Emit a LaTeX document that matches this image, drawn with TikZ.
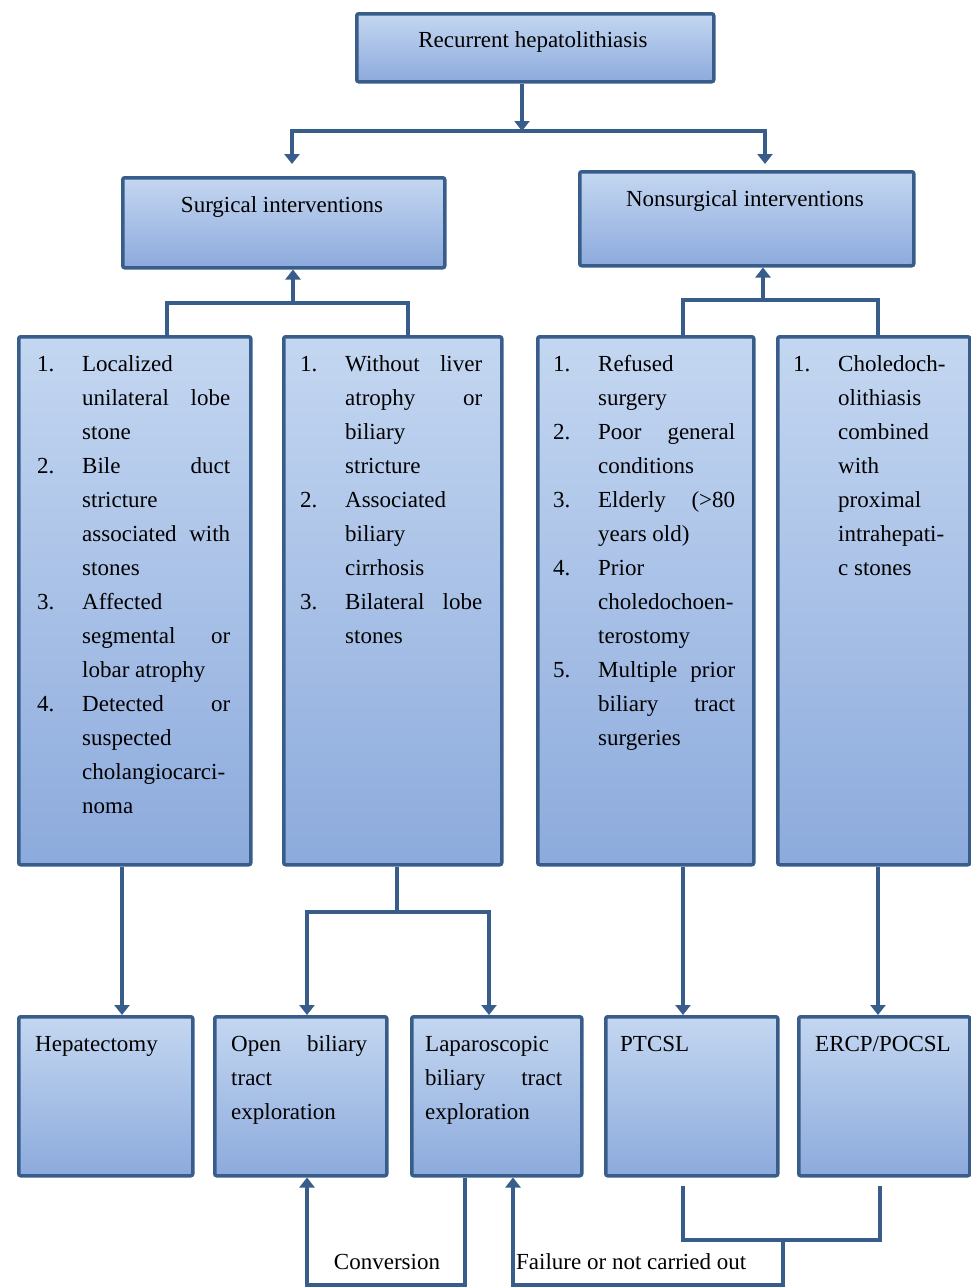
\documentclass[tikz,border=0pt]{standalone}
\usepackage{fontspec}
\setmainfont{Liberation Serif}
\usetikzlibrary{arrows.meta,calc}
\definecolor{edge}{HTML}{385D8A}
\definecolor{ftop}{HTML}{C4D7F1}
\definecolor{fbot}{HTML}{8CAADC}
\newcommand{\itm}[2]{\par\hangindent=45pt\hangafter=1\noindent\makebox[45pt][l]{#1}#2\par}
\hbadness=10000
\begin{document}
\begin{tikzpicture}[x=1pt,y=-1pt,
  box/.style={draw=edge, line width=3.5pt, rounded corners=2pt, top color=ftop, bottom color=fbot, inner sep=0pt, anchor=north west},
  conn/.style={draw=edge, line width=4pt},
  arr/.style={conn, -{Triangle[width=15pt,length=10pt]}},
  txt/.style={inner sep=0pt, anchor=base west, font=\fontsize{23}{34}\selectfont},
  ctxt/.style={inner sep=0pt, anchor=base, font=\fontsize{23}{34}\selectfont}]
\useasboundingbox (0,0) rectangle (970,1288);
% boxes
\node[box, minimum width=357pt, minimum height=68pt] (top) at (355,12) {};
\node[box, minimum width=322pt, minimum height=90pt] (surg) at (121,176) {};
\node[box, minimum width=334pt, minimum height=94pt] (nons) at (578,170) {};
\node[box, minimum width=232pt, minimum height=528pt] (b1) at (17,335) {};
\node[box, minimum width=218pt, minimum height=528pt] (b2) at (282,335) {};
\node[box, minimum width=216pt, minimum height=528pt] (b3) at (536,335) {};
\node[box, minimum width=192pt, minimum height=528pt] (b4) at (776,335) {};
\node[box, minimum width=174pt, minimum height=159pt] (hep) at (17,1015) {};
\node[box, minimum width=172pt, minimum height=159pt] (open) at (213,1015) {};
\node[box, minimum width=170pt, minimum height=159pt] (lap) at (410,1015) {};
\node[box, minimum width=172pt, minimum height=159pt] (ptc) at (604,1015) {};
\node[box, minimum width=171pt, minimum height=159pt] (ercp) at (797,1015) {};
% texts
\node[ctxt] (topt) at (533,47) {Recurrent hepatolithiasis};
\node[ctxt] (surgt) at (282,212) {Surgical interventions};
\node[ctxt] (nonst) at (745,206) {Nonsurgical interventions};
\node[txt] (b1t) at (37,371) {\parbox[t]{193pt}{%
\itm{1.}{Localized\\ unilateral\hfill lobe\\ stone}%
\itm{2.}{Bile\hfill duct\\ stricture\\ associated\hfill with\\ stones}%
\itm{3.}{Affected\\ segmental\hfill or\\ lobar atrophy}%
\itm{4.}{Detected\hfill or\\ suspected\\ cholangiocarci-\\ noma}}};
\node[txt] (b2t) at (300,371) {\parbox[t]{182pt}{%
\itm{1.}{Without\hfill liver\\ atrophy\hfill or\\ biliary\\ stricture}%
\itm{2.}{Associated\\ biliary\\ cirrhosis}%
\itm{3.}{Bilateral\hfill lobe\\ stones}}};
\node[txt] (b3t) at (553,371) {\parbox[t]{182pt}{%
\itm{1.}{Refused\\ surgery}%
\itm{2.}{Poor\hfill general\\ conditions}%
\itm{3.}{Elderly\hfill (>80\\ years old)}%
\itm{4.}{Prior\\ choledochoen-\\ terostomy}%
\itm{5.}{Multiple\hfill prior\\ biliary\hfill tract\\ surgeries}}};
\node[txt] (b4t) at (793,371) {\parbox[t]{162pt}{%
\itm{1.}{Choledoch-\\ olithiasis\\ combined\\ with\\ proximal\\ intrahepati-\\ c stones}}};
\node[txt] (hept) at (35,1051) {Hepatectomy};
\node[txt] (opent) at (231,1051) {\parbox[t]{136pt}{Open\hfill biliary\\ tract\\ exploration}};
\node[txt] (lapt) at (425,1051) {\parbox[t]{137pt}{Laparoscopic\\ biliary\hfill tract\\ exploration}};
\node[txt] (ptct) at (620,1051) {PTCSL};
\node[txt] (ercpt) at (815,1051) {ERCP/POCSL};
\node[ctxt] (conv) at (387,1269) {Conversion};
\node[txt] (fail) at (516,1269) {Failure or not carried out};
% junction coordinates
\coordinate (jA) at (522,131);
\coordinate (jL) at (292,131);
\coordinate (jR) at (765,131);
\coordinate (jS) at (293,303);
\coordinate (s1) at (167,303);
\coordinate (s2) at (408,303);
\coordinate (jN) at (763,300);
\coordinate (n1) at (683,300);
\coordinate (n2) at (878,300);
\coordinate (x1) at (122,900);
\coordinate (m2) at (397,912);
\coordinate (m2l) at (307,912);
\coordinate (m2r) at (489,912);
\coordinate (x3) at (683,900);
\coordinate (x4) at (878,900);
\coordinate (cvA) at (465,1285);
\coordinate (cvB) at (307,1285);
\coordinate (fA) at (683,1186);
\coordinate (fB) at (683,1240);
\coordinate (fC) at (880,1240);
\coordinate (fD) at (880,1186);
\coordinate (fM) at (783,1240);
\coordinate (fE) at (783,1285);
\coordinate (fF) at (513,1285);
% connectors
\draw[arr] (top.south -| jA) -- (jA);
\draw[arr, shorten >=12pt] (jA) -| (surg.north -| jL);
\draw[arr, shorten >=6pt] (jA) -| (nons.north -| jR);
\draw[arr] (jS) -- (surg.south -| jS);
\draw[conn] (b1.north -| s1) -- (s1) -- (s2) -- (b2.north -| s2);
\draw[arr] (jN) -- (nons.south -| jN);
\draw[conn] (b3.north -| n1) -- (n1) -- (n2) -- (b4.north -| n2);
\draw[arr] (b1.south -| x1) -- (hep.north -| x1);
\draw[conn] (b2.south -| m2) -- (m2);
\draw[arr] (m2) -| (open.north -| m2l);
\draw[arr] (m2) -| (lap.north -| m2r);
\draw[arr] (b3.south -| x3) -- (ptc.north -| x3);
\draw[arr] (b4.south -| x4) -- (ercp.north -| x4);
\draw[arr] (lap.south -| cvA) -- (cvA) -- (cvB) -- (open.south -| cvB);
\draw[conn] (fA) -- (fB) -- (fC) -- (fD);
\draw[arr] (fM) -- (fE) -- (fF) -- (lap.south -| fF);
\end{tikzpicture}
\end{document}
